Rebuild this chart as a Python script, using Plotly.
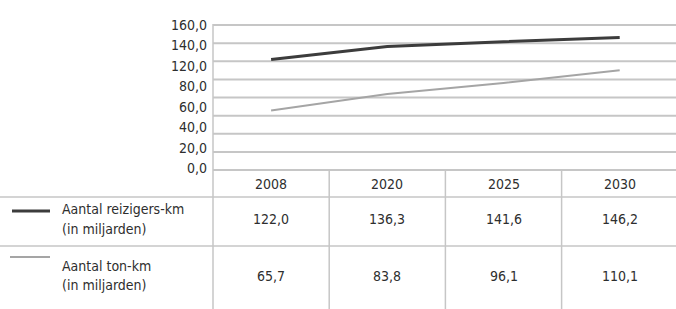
import numpy as np
import plotly.graph_objects as go

W, H = 676, 309

years = ["2008", "2020", "2025", "2030"]
reizigers_km = [122.0, 136.3, 141.6, 146.2]
ton_km = [65.7, 83.8, 96.1, 110.1]
series_lines = [["Aantal reizigers-km", "(in miljarden)"], ["Aantal ton-km", "(in miljarden)"]]
y_tick_labels = ["160,0", "140,0", "120,0", "80,0", "60,0", "40,0", "20,0", "0,0"]
y_grid_values = [0, 20, 40, 60, 80, 100, 120, 140, 160]

FONT = "DejaVu Sans Condensed, Liberation Sans Narrow, Roboto Condensed, sans-serif"
TXT = "#2e2e2e"
GRID = "#c6c6c6"
DARK = "#3c3c3c"
LIGHT = "#a5a5a5"


def px_x(x):
    return x / W


def px_y(y):
    return 1 - y / H


def fmt(v):
    return f"{v:.1f}".replace(".", ",")


fig = go.Figure()
fig.add_trace(go.Scatter(x=years, y=reizigers_km, mode="lines",
                         line=dict(color=DARK, width=3), showlegend=False, hoverinfo="skip"))
fig.add_trace(go.Scatter(x=years, y=ton_km, mode="lines",
                         line=dict(color=LIGHT, width=2), showlegend=False, hoverinfo="skip"))

x0_plot = 213
col_w = 116.2
x_end = -0.5 + (W - x0_plot) / col_w
y_dom = [px_y(171), px_y(24)]
y_rng = [-160 / 145, 160 + 160 / 145]

fig.update_layout(
    width=W, height=H,
    margin=dict(l=0, r=0, t=0, b=0, autoexpand=False),
    paper_bgcolor="white", plot_bgcolor="white",
    font=dict(family=FONT, size=14, color=TXT),
    xaxis=dict(domain=[px_x(x0_plot), 1], type="category", range=[-0.5, x_end],
               showgrid=False, zeroline=False, showticklabels=False, showline=False),
    yaxis=dict(domain=y_dom, range=y_rng, showgrid=False, zeroline=False, automargin=False,
               tickvals=list(np.linspace(160, 2, len(y_tick_labels))),
               ticktext=y_tick_labels, ticks="", ticklabelstandoff=5,
               tickfont=dict(size=14, color=TXT)),
)

shapes = []
line_style = dict(color=GRID, width=1.5)
# horizontal gridlines of the chart
for v in y_grid_values:
    shapes.append(dict(type="line", xref="paper", yref="y", layer="below",
                       x0=px_x(x0_plot), x1=1, y0=v, y1=v,
                       line=dict(color=GRID, width=2)))
# left vertical border
shapes.append(dict(type="line", xref="paper", yref="paper",
                   x0=px_x(x0_plot), x1=px_x(x0_plot), y0=px_y(24), y1=0, line=line_style))
# column separators in table
for i in range(1, len(years)):
    xb = x0_plot + i * col_w
    shapes.append(dict(type="line", xref="paper", yref="paper",
                       x0=px_x(xb), x1=px_x(xb), y0=px_y(170), y1=0, line=line_style))
# row separators
for yy in [197, 246]:
    shapes.append(dict(type="line", xref="paper", yref="paper",
                       x0=0, x1=1, y0=px_y(yy), y1=px_y(yy), line=line_style))
# legend samples
shapes.append(dict(type="line", xref="paper", yref="paper",
                   x0=px_x(12), x1=px_x(50), y0=px_y(211), y1=px_y(211),
                   line=dict(color=DARK, width=3)))
shapes.append(dict(type="line", xref="paper", yref="paper",
                   x0=px_x(10), x1=px_x(50), y0=px_y(257), y1=px_y(257),
                   line=dict(color=LIGHT, width=2)))
fig.update_layout(shapes=shapes)

ann = []
for i, yr in enumerate(years):
    ann.append(dict(x=i, xref="x", y=px_y(184), yref="paper", text=yr,
                    showarrow=False, xanchor="center", yanchor="middle"))
    ann.append(dict(x=i, xref="x", y=px_y(219), yref="paper", text=fmt(reizigers_km[i]),
                    showarrow=False, xanchor="center", yanchor="middle"))
    ann.append(dict(x=i, xref="x", y=px_y(276), yref="paper", text=fmt(ton_km[i]),
                    showarrow=False, xanchor="center", yanchor="middle"))
row_line_y = [[209, 229], [266, 285]]
for lines, ys in zip(series_lines, row_line_y):
    for txt, yy in zip(lines, ys):
        ann.append(dict(x=px_x(60), xref="paper", y=px_y(yy), yref="paper", text=txt,
                        showarrow=False, xanchor="left", yanchor="middle", align="left"))
fig.update_layout(annotations=ann)

fig.write_html("out.html", config={"displayModeBar": False},
               post_script="document.body.style.margin='0';")
